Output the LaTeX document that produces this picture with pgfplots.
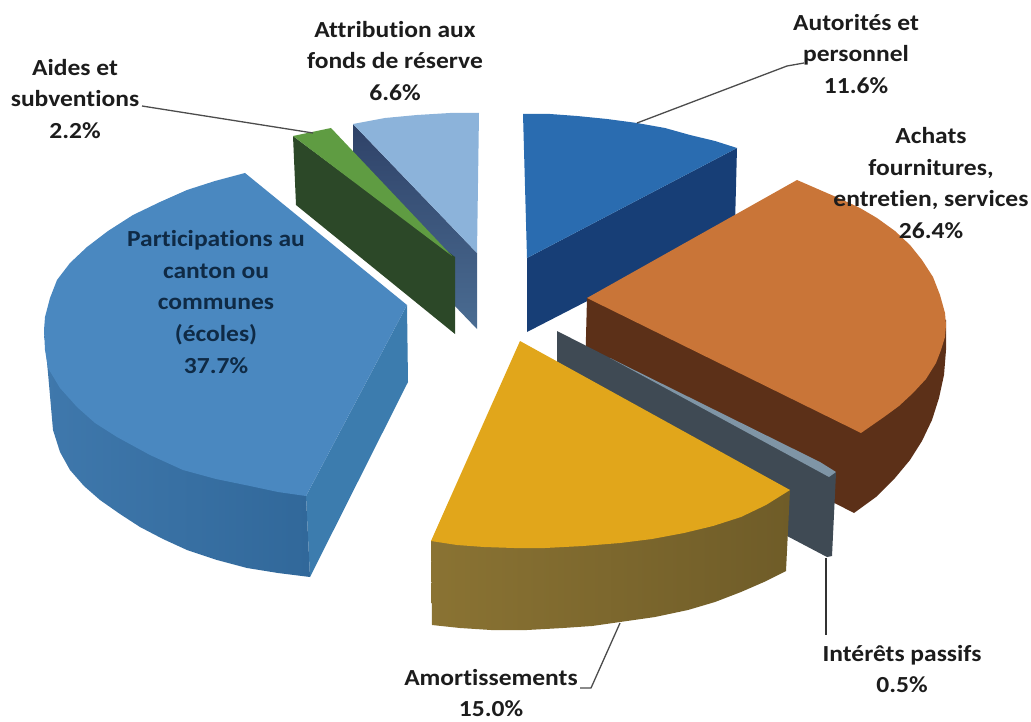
\documentclass[border=0pt]{standalone}
\usepackage{pgfplots}
\usepackage{fontspec}
\setmainfont[FakeStretch=1.11,Ligatures=NoCommon]{Carlito}
\pgfplotsset{compat=1.18}

\definecolor{partTop}{HTML}{4A88C0}
\definecolor{partArcA}{HTML}{3F78AC}
\definecolor{partArcB}{HTML}{31689A}
\definecolor{partCut}{HTML}{3C7CAE}
\definecolor{aideTop}{HTML}{5F9C42}
\definecolor{aideSide}{HTML}{2C4828}
\definecolor{fondTop}{HTML}{8CB3DA}
\definecolor{fondSideA}{HTML}{2F4268}
\definecolor{fondSideB}{HTML}{4A6C92}
\definecolor{autoTop}{HTML}{2A6CB0}
\definecolor{autoSide}{HTML}{173E76}
\definecolor{achaTop}{HTML}{C97538}
\definecolor{achaSide}{HTML}{5C3018}
\definecolor{intSide}{HTML}{3F4A54}
\definecolor{intTop}{HTML}{7F95A6}
\definecolor{amorTop}{HTML}{E1A61B}
\definecolor{amorSideA}{HTML}{8A7333}
\definecolor{amorSideB}{HTML}{6F5C28}
\definecolor{txt}{HTML}{1C1C1C}
\definecolor{txtIn}{HTML}{0F2A45}

\tikzset{lab/.style={font=\fontsize{23}{31.6}\selectfont\bfseries, align=center, text=txt, inner sep=0pt}}

\begin{document}
\begin{tikzpicture}
\begin{axis}[
width=1031pt, height=722pt, scale only axis,
xmin=0, xmax=1031, ymin=0, ymax=722,
y dir=reverse, hide axis, clip=false,
]
\path (axis cs:0,0) rectangle (axis cs:1031,722);

% Attribution aux fonds de reserve
\addplot[draw=none, top color=fondSideA, bottom color=fondSideB] coordinates {
(353,124)(477,253)(477,329)(353,200)} --cycle;
\addplot[draw=none, fill=fondTop] coordinates {
(353,124)(385,118)(417,115)(450,113)(479,113)(477,253)} --cycle;

% Aides et subventions
\addplot[draw=none, fill=aideSide] coordinates {
(293,136)(455,257)(455,334)(296,205)} --cycle;
\addplot[draw=none, fill=aideTop] coordinates {
(293,136)(331,128)(452,256)} --cycle;

% Autorites et personnel
\addplot[draw=none, fill=autoSide] coordinates {
(737,148)(735,225)(527,332)(527,258)} --cycle;
\addplot[draw=none, fill=autoTop] coordinates {
(523,114)(550,114)(577,116)(607,119)(637,123)(665,128)(690,135)(715,141)(737,148)(527,258)} --cycle;

% Achats fournitures
\addplot[draw=none, fill=achaSide] coordinates {
(587,298)(585,375)(854,513)(876,497)(895,478)(910,460)(922,441)(932,420)(939,398)(944,375)(946,350)(946,320)} --cycle;
\addplot[draw=none, fill=achaTop] coordinates {
(587,298)(797,180)(820,190)(843,200)(860,208)(877,218)(895,231)(910,245)(922,260)(933,277)(940,295)(945,313)(946,325)(945,337)(941,350)(936,363)(926,379)(913,393)(899,406)(884,417)(861,433)} --cycle;

% Interets passifs
\addplot[draw=none, fill=intSide] coordinates {
(557,331)(836,473)(832,556)(827,557)(557,415)} --cycle;
\addplot[draw=none, fill=intTop] coordinates {
(610,358)(820,462)(836,472)(829,477)} --cycle;

% Amortissements
\addplot[draw=none, left color=amorSideA, right color=amorSideB] coordinates {
(431,541)(432,625)(460,628)(491,630)(527,630)(563,628)(592,626)(620,622)(655,617)(688,610)(715,602)(741,592)(764,582)(786,571)(790,490)} --cycle;
\addplot[draw=none, fill=amorTop] coordinates {
(520,341)(790,490)(766,505)(741,517)(713,526)(684,533)(652,539)(620,543)(583,546)(545,548)(514,548)(484,547)(457,545)(431,541)} --cycle;

% Participations au canton ou communes
\addplot[draw=none, fill=partCut] coordinates {
(407,305)(408,382)(310,577)(306,496)} --cycle;
\addplot[draw=none, left color=partArcA, right color=partArcB] coordinates {
(44,330)(48,373)(53,430)(60,452)(70,470)(84,486)(100,500)(120,514)(140,527)(163,539)(187,550)(217,560)(247,568)(278,573)(310,577)(306,496)} --cycle;
\addplot[draw=none, fill=partTop] coordinates {
(245,173)(407,305)(306,496)(278,492)(250,486)(216,479)(183,470)(150,455)(117,437)(95,423)(77,407)(60,388)(48,368)(45,350)(44,330)(45,317)(50,298)(57,280)(70,263)(87,247)(108,231)(133,215)(160,202)(187,190)(215,181)} --cycle;

% lignes de rappel
\addplot[color=black!70, line width=1.3pt] coordinates {(142,106)(313,133)};
\addplot[color=black!70, line width=1.3pt] coordinates {(804,63)(787,66)(637,123)};
\addplot[color=black!70, line width=1.3pt] coordinates {(580,688)(591,688)(620,623)};
\addplot[color=black!80, line width=1.3pt] coordinates {(826,558)(826,635)};

\node[lab] at (axis cs:856,54) {Autorités et\\personnel\\11.6\%};
\node[lab] at (axis cs:395,61) {Attribution aux\\fonds de réserve\\6.6\%};
\node[lab] at (axis cs:75,99) {Aides et\\subventions\\2.2\%};
\node[lab] at (axis cs:931,183) {Achats\\fournitures,\\entretien, services\\26.4\%};
\node[lab, text=txtIn] at (axis cs:216,302) {Participations au\\canton ou\\communes\\(écoles)\\37.7\%};
\node[lab] at (axis cs:491,693) {Amortissements\\15.0\%};
\node[lab] at (axis cs:902,669) {Intérêts passifs\\0.5\%};
\end{axis}
\end{tikzpicture}
\end{document}
